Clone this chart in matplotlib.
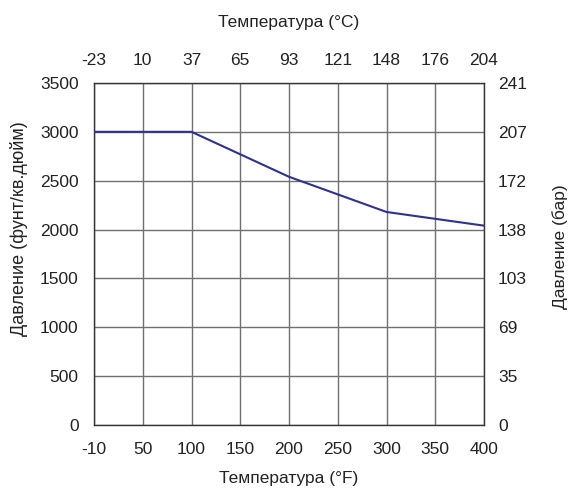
import matplotlib
matplotlib.use('Agg')
import matplotlib.pyplot as plt

plt.rcParams['font.family'] = ['Liberation Sans', 'DejaVu Sans']

# x positions on a 0..400 scale, first tick labelled -10 (°F)
f_ticks = [0, 50, 100, 150, 200, 250, 300, 350, 400]
f_labels = ['-10', '50', '100', '150', '200', '250', '300', '350', '400']
c_labels = ['-23', '10', '37', '65', '93', '121', '148', '176', '204']
psi_ticks = [0, 500, 1000, 1500, 2000, 2500, 3000, 3500]
bar_labels = ['0', '35', '69', '103', '138', '172', '207', '241']

temp_f = [0, 100, 200, 300, 400]
pressure_psi = [3000, 3000, 2540, 2180, 2040]

txt = '#222222'
fs = 12.5

fig = plt.figure(figsize=(5.74, 4.88), dpi=100)
ax = fig.add_axes([0.1638, 0.129, 0.6794, 0.701])

ax.plot(temp_f, pressure_psi, color='#2e3192', lw=1.5, zorder=3)
ax.set_xlim(0, 400)
ax.set_ylim(0, 3500)
ax.set_xticks(f_ticks, f_labels)
ax.set_yticks(psi_ticks)
ax.grid(True, color='#707070', lw=1.0)
ax.tick_params(axis='x', length=0, labelsize=fs, pad=12, colors=txt)
ax.tick_params(axis='y', length=0, labelsize=fs, pad=11, colors=txt)
for s in ax.spines.values():
    s.set_color('#333333')
    s.set_linewidth(1.0)
ax.set_xlabel('Температура (°F)', fontsize=fs, color=txt, va='center')
ax.xaxis.set_label_coords(0.5, -0.155)
ax.set_ylabel('Давление (фунт/кв.дюйм)', fontsize=13, color=txt, va='center')
ax.yaxis.set_label_coords(-0.193, 0.573)

top = ax.twiny()
top.set_xlim(ax.get_xlim())
top.set_xticks(f_ticks, c_labels)
top.tick_params(length=0, labelsize=fs, pad=11, colors=txt)
top.set_xlabel('Температура (°C)', fontsize=fs, color=txt, va='center')
top.xaxis.set_label_coords(0.5, 1.178)

right = ax.twinx()
right.set_ylim(ax.get_ylim())
right.set_yticks(psi_ticks, bar_labels)
right.tick_params(length=0, labelsize=fs, pad=10, colors=txt)
right.set_ylabel('Давление (бар)', fontsize=fs, color=txt, va='center')
right.yaxis.set_label_coords(1.195, 0.52)

for a in (top, right):
    for s in a.spines.values():
        s.set_visible(False)

fig.savefig('out.png', dpi=100)
